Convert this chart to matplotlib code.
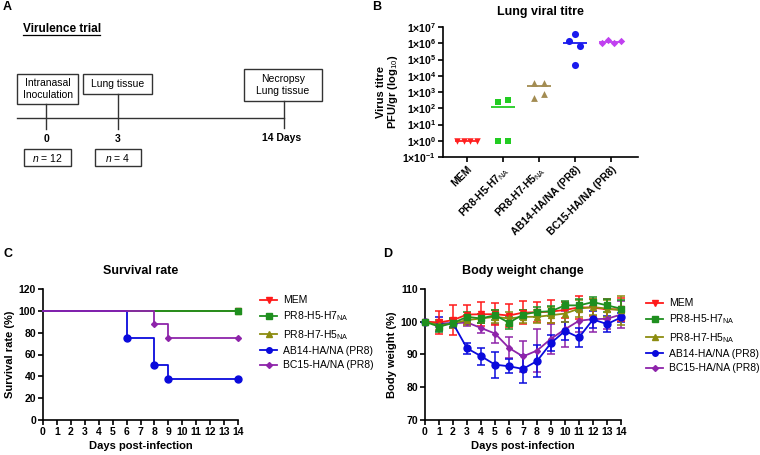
import numpy as np
import matplotlib
matplotlib.use("Agg")
import matplotlib.pyplot as plt
from matplotlib.patches import Rectangle

plt.rcParams['font.family'] = ['Liberation Sans', 'DejaVu Sans']
plt.rcParams['mathtext.fontset'] = 'custom'
plt.rcParams['mathtext.rm'] = 'Liberation Sans'
plt.rcParams['mathtext.it'] = 'Liberation Sans:italic'
plt.rcParams['mathtext.bf'] = 'Liberation Sans:bold'

# group names
groups = ['MEM', r'PR8-H5-H7$_{\mathrm{NA}}$', r'PR8-H7-H5$_{\mathrm{NA}}$',
          'AB14-HA/NA (PR8)', 'BC15-HA/NA (PR8)']

# B - lung viral titre, PFU/gr, 4 mice per group
titre_mem = [1, 1, 1, 1]
titre_h5h7 = [1, 1, 250, 300]
titre_h7h5 = [3800, 3800, 420, 790]
titre_ab14 = [1.3e6, 3.5e6, 6.8e5, 4.9e4]
titre_bc15 = [1.05e6, 1.7e6, 1.05e6, 1.4e6]
titre_ticks = [1e-1, 1e0, 1e1, 1e2, 1e3, 1e4, 1e5, 1e6, 1e7]
titre_ticklabels = [r'$\mathbf{1{\times}10^{%d}}$' % e for e in range(-1, 8)]

# C - survival (%)
surv_days_ctrl = [0, 14]
surv_ctrl = [100, 100]
surv_days_ab14 = [0, 6, 8, 9, 14]
surv_ab14 = [100, 75, 50, 37.5, 37.5]
surv_days_bc15 = [0, 8, 9, 14]
surv_bc15 = [100, 87.5, 75, 75]

# D - body weight (%), mean and error
days = list(range(15))
bw_mem = [100, 99.8, 100.5, 102.2, 102.3, 102.3, 101.9, 102.8, 102.9, 103.1, 103.6, 104.4, 104.3, 103.8, 103.8]
bw_mem_err = [0, 3.4, 4.5, 3.0, 3.7, 3.4, 3.4, 3.4, 3.0, 3.4, 2.5, 3.5, 2.5, 3.0, 3.5]
bw_h5h7 = [100, 98.5, 99.6, 101.5, 101.0, 102.0, 99.7, 102.2, 103.0, 103.2, 105.0, 105.0, 106.0, 105.0, 104.0]
bw_h5h7_err = [0, 1.5, 1.2, 1.5, 1.5, 1.5, 1.8, 1.5, 1.5, 1.5, 1.2, 1.8, 1.5, 2.0, 2.5]
bw_h7h5 = [100, 99.0, 99.5, 100.5, 101.0, 101.5, 101.0, 101.5, 101.5, 102.0, 102.5, 104.0, 104.5, 104.0, 103.5]
bw_h7h5_err = [0, 1.5, 1.5, 1.5, 1.5, 2.0, 2.0, 2.0, 2.0, 2.5, 2.5, 2.5, 2.5, 2.5, 4.5]
bw_ab14 = [100, 99.3, 99.5, 91.9, 89.5, 86.9, 86.4, 85.6, 88.0, 93.5, 97.2, 95.2, 100.7, 99.3, 101.3]
bw_ab14_err = [0, 2.0, 1.5, 1.7, 2.6, 4.0, 2.2, 4.2, 5.0, 2.4, 2.8, 3.0, 2.5, 2.5, 1.5]
bw_bc15 = [100, 99.5, 99.5, 99.8, 98.1, 96.4, 92.0, 89.4, 91.2, 94.8, 97.7, 100.3, 100.8, 100.9, 102.2]
bw_bc15_err = [0, 1.0, 1.0, 1.0, 1.5, 3.0, 3.2, 4.8, 6.5, 4.5, 5.5, 3.5, 4.0, 3.0, 4.0]

colB = ['#ff2020', '#22cc22', '#a38c52', '#1a1aee', '#c040f0']
colCD = ['#ff1a1a', '#1f8f1f', '#8c8c10', '#0a0adc', '#8e24aa']
mk = ['v', 's', '^', 'o', 'D']

fig = plt.figure(figsize=(7.6, 4.55), dpi=100)

def style_axes(ax):
    for s in ['top', 'right']:
        ax.spines[s].set_visible(False)
    for s in ['left', 'bottom']:
        ax.spines[s].set_linewidth(1.2)
    ax.tick_params(width=1.2, length=3.5, labelsize=7.5, pad=1.5)

# ---------- panel A (schematic, pixel coords) ----------
axA = fig.add_axes([0, 0, 1, 1])
axA.set_xlim(0, 760)
axA.set_ylim(455, 0)
axA.axis('off')
axA.text(3, 7, 'A', fontsize=9, fontweight='bold', va='center')
axA.text(23, 29, 'Virulence trial', fontsize=8.5, fontweight='bold', va='center')
axA.plot([23, 100], [35, 35], color='black', lw=0.9)
lc = '#333333'
for (x0, y0, x1, y1), txt in [((17, 74, 78, 104), 'Intranasal\nInoculation'),
                             ((83, 74, 152, 94), 'Lung tissue'),
                             ((244, 69, 322, 101), 'Necropsy\nLung tissue')]:
    axA.add_patch(Rectangle((x0, y0), x1 - x0, y1 - y0, fill=False, ec=lc, lw=1))
    axA.text((x0 + x1) / 2, (y0 + y1) / 2, txt, ha='center', va='center',
             fontsize=7.5, linespacing=1.15)
axA.plot([17, 284], [118, 118], color=lc, lw=1)
axA.plot([46, 46], [104, 129], color=lc, lw=1)
axA.plot([118, 118], [94, 129], color=lc, lw=1)
axA.plot([284, 284], [101, 128], color=lc, lw=1)
axA.text(46, 139, '0', ha='center', va='center', fontsize=7.5, fontweight='bold')
axA.text(118, 139, '3', ha='center', va='center', fontsize=7.5, fontweight='bold')
axA.text(282, 138, '14 Days', ha='center', va='center', fontsize=7.5, fontweight='bold')
for (x0, x1), txt in [((24, 71), '$n$ = 12'), ((95, 141), '$n$ = 4')]:
    axA.add_patch(Rectangle((x0, 149), x1 - x0, 17, fill=False, ec=lc, lw=1))
    axA.text((x0 + x1) / 2, 157.5, txt, ha='center', va='center', fontsize=7.5)
axA.text(372, 7, 'B', fontsize=9, fontweight='bold', va='center')
axA.text(3, 254, 'C', fontsize=9, fontweight='bold', va='center')
axA.text(383, 254, 'D', fontsize=9, fontweight='bold', va='center')

# ---------- panel B ----------
axB = fig.add_axes([443 / 760, 1 - 157 / 455, 195 / 760, 130 / 455])
style_axes(axB)
titres = [titre_mem, titre_h5h7, titre_h7h5, titre_ab14, titre_bc15]
offsets = [[-0.28, -0.09, 0.09, 0.28], [-0.14, 0.14, -0.14, 0.14],
           [-0.14, 0.14, -0.14, 0.14], [-0.16, 0.0, 0.14, 0.0],
           [-0.26, -0.09, 0.09, 0.27]]
sizes = [22, 22, 24, 26, 14]
for i, vals in enumerate(titres):
    xs = [i + o for o in offsets[i]]
    axB.scatter(xs, vals, marker=mk[i], s=sizes[i], color=colB[i], lw=0, zorder=3)
    axB.hlines(np.median(vals), i - 0.34, i + 0.34, color=colB[i], lw=1.3, zorder=2)
axB.set_yscale('log')
axB.set_ylim(1e-1, 1e7)
axB.set_yticks(titre_ticks, titre_ticklabels)
axB.minorticks_off()
axB.set_xlim(-0.67, 4.75)
axB.set_xticks(range(5), groups, rotation=45, ha='right', rotation_mode='anchor',
               fontweight='bold')
axB.set_ylabel('Virus titre\nPFU/gr (log$_{10}$)', fontsize=8, fontweight='bold',
               labelpad=2, linespacing=1.0)
axB.set_title('Lung viral titre', fontsize=9, fontweight='bold', pad=9)

# ---------- panel C ----------
axC = fig.add_axes([43 / 760, 1 - 420 / 455, 195 / 760, 131 / 455])
style_axes(axC)
surv = [(surv_days_ctrl, surv_ctrl), (surv_days_ctrl, surv_ctrl), (surv_days_ctrl, surv_ctrl),
        (surv_days_ab14, surv_ab14), (surv_days_bc15, surv_bc15)]
order = [0, 2, 1, 3, 4]
handles = {}
for i in order:
    d, s = surv[i]
    axC.step(d, s, where='post', color=colCD[i], lw=1.3, clip_on=False, zorder=3)
    axC.plot(d[1:], s[1:], ls='none', marker=mk[i], ms=5 if mk[i] != 'D' else 3,
             color=colCD[i], clip_on=False, zorder=4)
    handles[i] = axC.plot([], [], color=colCD[i], lw=1.3, marker=mk[i],
                          ms=4 if mk[i] != 'D' else 3, label=groups[i])[0]
axC.set_xlim(0, 14)
axC.set_ylim(0, 120)
axC.set_xticks(range(15), [str(d) for d in range(15)], fontweight='bold')
axC.set_yticks(range(0, 121, 20), [str(v) for v in range(0, 121, 20)], fontweight='bold')
axC.set_xlabel('Days post-infection', fontsize=8, fontweight='bold', labelpad=3)
axC.set_ylabel('Survival rate (%)', fontsize=8, fontweight='bold', labelpad=3)
axC.set_title('Survival rate', fontsize=9, fontweight='bold', pad=11)
fig.legend([handles[i] for i in range(5)], groups, loc='upper left',
           bbox_to_anchor=(255 / 760, 1 - 290 / 455), frameon=False, fontsize=7.5,
           borderpad=0, handlelength=1.6, handletextpad=0.6, labelspacing=0.42)

# ---------- panel D ----------
axD = fig.add_axes([425 / 760, 1 - 420 / 455, 196 / 760, 131 / 455])
style_axes(axD)
bw = [(bw_mem, bw_mem_err), (bw_h5h7, bw_h5h7_err), (bw_h7h5, bw_h7h5_err),
      (bw_ab14, bw_ab14_err), (bw_bc15, bw_bc15_err)]
hD = []
for i in [4, 3, 0, 2, 1]:
    m, e = bw[i]
    axD.errorbar(days, m, yerr=e, color=colCD[i], lw=1.3, elinewidth=1.1, capsize=3,
                 capthick=1.1, marker=mk[i], ms=5 if mk[i] != 'D' else 3,
                 clip_on=False, zorder=3)
for i in range(5):
    hD.append(axD.plot([], [], color=colCD[i], lw=1.3, marker=mk[i],
                       ms=4 if mk[i] != 'D' else 3)[0])
axD.set_xlim(0, 14)
axD.set_ylim(70, 110)
axD.set_xticks(range(15), [str(d) for d in range(15)], fontweight='bold')
axD.set_yticks(range(70, 111, 10), [str(v) for v in range(70, 111, 10)], fontweight='bold')
axD.set_xlabel('Days post-infection', fontsize=8, fontweight='bold', labelpad=3)
axD.set_ylabel('Body weight (%)', fontsize=8, fontweight='bold', labelpad=3)
axD.set_title('Body weight change', fontsize=9, fontweight='bold', pad=11)
fig.legend(hD, groups, loc='upper left', bbox_to_anchor=(641 / 760, 1 - 293 / 455),
           frameon=False, fontsize=7.5, borderpad=0, handlelength=1.6,
           handletextpad=0.6, labelspacing=0.42)

fig.savefig('out.png', dpi=100)
